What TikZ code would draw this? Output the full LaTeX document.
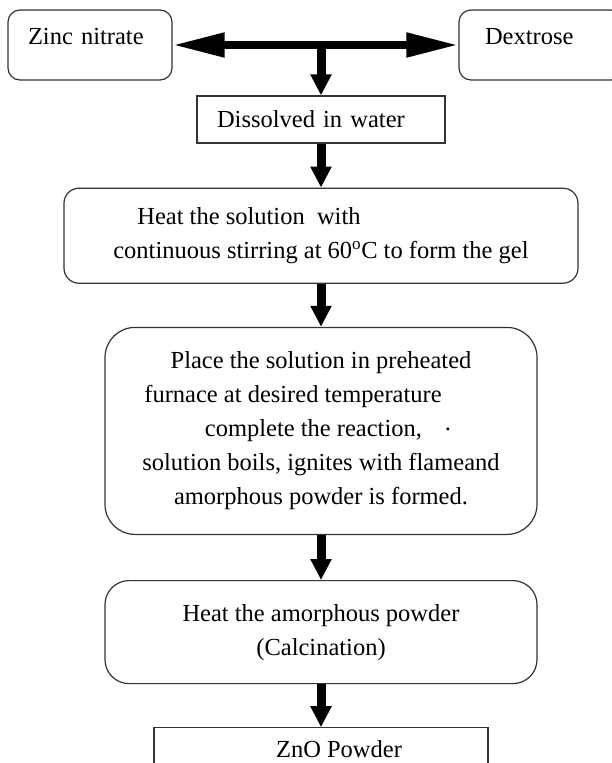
\documentclass[tikz,border=0pt]{standalone}
\usepackage{fontspec}
\setmainfont{Liberation Serif}
\usetikzlibrary{arrows.meta, positioning}
\newcommand{\stepfont}{\fontsize{24.5}{34}\selectfont}

\begin{document}
\begin{tikzpicture}[x=1pt,y=1pt,
    stepbox/.style={draw=black!80, line width=1.2pt, fill=white, font=\stepfont, inner sep=0pt},
    roundbox/.style={stepbox, rounded corners=#1},
    roundbox/.default=15pt,
    sourcebox/.style={roundbox=12pt, text width=124pt, inner xsep=20pt, align=left,
                      minimum height=70pt, text height=16pt, text depth=18pt},
    flowarrow/.style={line width=9pt, -{Triangle[length=21pt,width=20pt]}},
    sidearrow/.style={line width=8pt, {Triangle[length=52pt,width=23pt]}-{Triangle[length=52pt,width=23pt]}}
    ]
    \path[use as bounding box, fill=white] (0,0) rectangle (612,-763);

    \node [sourcebox] (zinc) at (90,-45) {Zinc nitrate};
    \node [sourcebox, inner xsep=26pt, text width=112pt] (dextrose) at (541,-45) {Dextrose};
    \node [stepbox, text width=208pt, inner xsep=20pt, align=left, minimum height=47pt] (dissolved) at (321,-119.5) {Dissolved in water};
    \node [roundbox, below=44pt of dissolved, minimum width=514pt, minimum height=95pt, align=left] (heat)
        {\hspace*{24pt}Heat the solution\ \ with\\continuous stirring at 60\textsuperscript{o}C to form the gel};
    \node [roundbox=30pt, below=43pt of heat, minimum width=432pt, minimum height=207pt, align=center] (place)
        {Place the solution in preheated\\
         furnace at desired temperature\hspace*{56pt}\mbox{}\\
         \hspace*{14pt}complete the reaction,\hspace*{23pt}\raisebox{6pt}{.}\\
         solution boils, ignites with flameand\\
         amorphous powder is formed.};
    \node [roundbox=24pt, below=45pt of place, minimum width=432pt, minimum height=103pt, align=center] (calcine)
        {Heat the amorphous powder\\(Calcination)};
    \node [stepbox, below=43pt of calcine, minimum width=334pt, minimum height=80pt,
           text height=16pt, text depth=36pt, align=center] (zno) {\hspace*{36pt}ZnO Powder};

    \draw [sidearrow] (zinc) -- (dextrose);
    \draw [flowarrow] (zinc.east -| dissolved.north) -- (dissolved);
    \draw [flowarrow] (dissolved) -- (heat);
    \draw [flowarrow] (heat) -- (place);
    \draw [flowarrow] (place) -- (calcine);
    \draw [flowarrow] (calcine) -- (zno);
\end{tikzpicture}
\end{document}
